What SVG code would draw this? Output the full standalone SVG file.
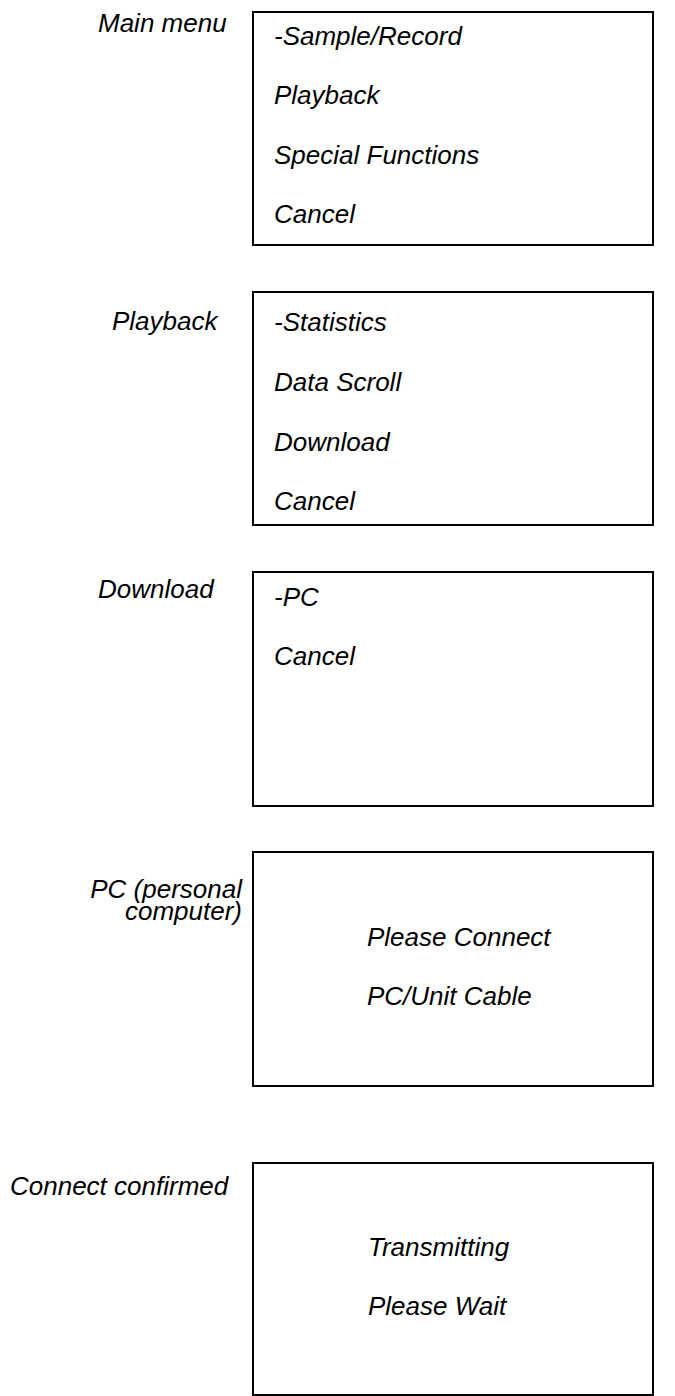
<svg xmlns="http://www.w3.org/2000/svg" width="675" height="1396" viewBox="0 0 675 1396">
<style>
.t{font-family:"Liberation Sans",Arial,sans-serif;font-style:italic;font-size:26px;fill:#000}
.e{text-anchor:end}
.b{fill:#fff;stroke:#000;stroke-width:2}
</style>
<rect width="675" height="1396" fill="#fff"/>
<g id="main-menu">
<text class="t" x="98" y="32">Main menu</text>
<rect class="b" x="253" y="12" width="400" height="233"/>
<text class="t" x="274" y="45">-Sample/Record</text>
<text class="t" x="274" y="104">Playback</text>
<text class="t" x="274" y="164">Special Functions</text>
<text class="t" x="274" y="223">Cancel</text>
</g>
<g id="playback">
<text class="t" x="112" y="330">Playback</text>
<rect class="b" x="253" y="292" width="400" height="233"/>
<text class="t" x="274" y="331">-Statistics</text>
<text class="t" x="274" y="391">Data Scroll</text>
<text class="t" x="274" y="451">Download</text>
<text class="t" x="274" y="510">Cancel</text>
</g>
<g id="download">
<text class="t" x="98" y="598">Download</text>
<rect class="b" x="253" y="572" width="400" height="234"/>
<text class="t" x="274" y="606">-PC</text>
<text class="t" x="274" y="665">Cancel</text>
</g>
<g id="pc">
<text class="t e" x="242" y="898">PC (personal</text>
<text class="t e" x="242" y="920">computer)</text>
<rect class="b" x="253" y="852" width="400" height="234"/>
<text class="t" x="367" y="946">Please Connect</text>
<text class="t" x="367" y="1005">PC/Unit Cable</text>
</g>
<g id="connect-confirmed">
<text class="t" x="10" y="1195">Connect confirmed</text>
<rect class="b" x="253" y="1163" width="400" height="232"/>
<text class="t" x="368" y="1256">Transmitting</text>
<text class="t" x="368" y="1315">Please Wait</text>
</g>
<g id="connectors"></g>
</svg>
